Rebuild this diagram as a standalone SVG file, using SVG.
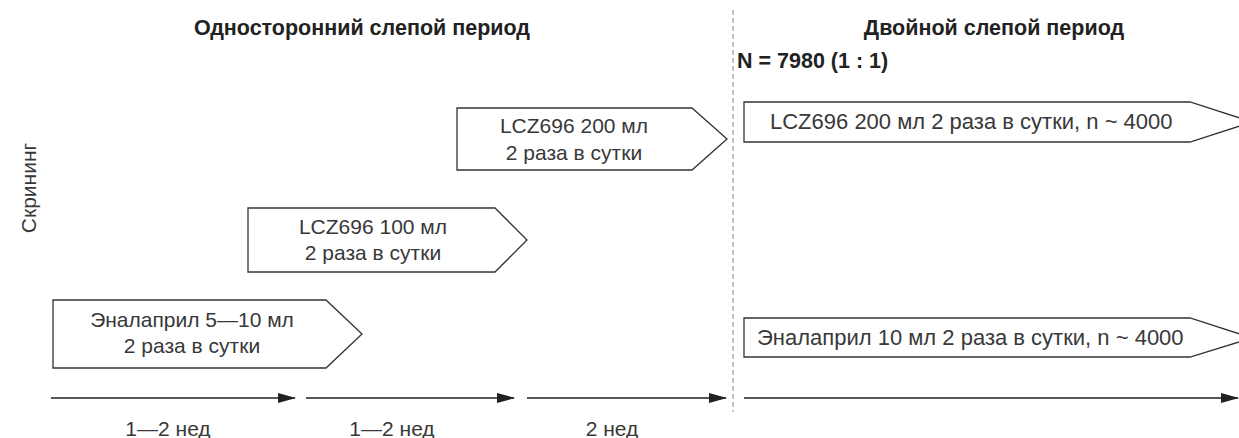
<svg xmlns="http://www.w3.org/2000/svg" width="1239" height="438" viewBox="0 0 1239 438">
<style>
.t{font-family:"Liberation Sans",Arial,sans-serif;font-size:21px;fill:#383838}
.t2{font-size:22px}
.h{font-family:"Liberation Sans",Arial,sans-serif;font-size:21.5px;font-weight:bold;fill:#222}
.box{fill:#fff;stroke:#333;stroke-width:1.3}
.ln{stroke:#222;stroke-width:1.5;fill:none}
.dash{stroke:#888;stroke-width:1;stroke-dasharray:5,3;fill:none}
</style>
<defs>
<marker id="ah" markerWidth="18" markerHeight="10" refX="17" refY="5" orient="auto" markerUnits="userSpaceOnUse">
<path d="M0,0 L18,5 L0,10 Z" fill="#222"/>
</marker>
</defs>
<rect width="1239" height="438" fill="#fff"/>
<g id="titles">
<text class="h" x="362" y="35" text-anchor="middle">Односторонний слепой период</text>
<text class="h" x="994" y="35" text-anchor="middle">Двойной слепой период</text>
<text class="h" x="737" y="68" font-size="22.5">N = 7980 (1 : 1)</text>
<text class="t" font-size="18" transform="translate(36,188) rotate(-90)" text-anchor="middle">Скрининг</text>
</g>
<g id="divider"><line class="dash" x1="733" y1="10" x2="733" y2="412"/></g>
<g id="box-lcz200">
<path class="box" d="M457,108 H692 L727,139 L692,170 H457 Z"/>
<text class="t" x="574" y="133" text-anchor="middle">LCZ696 200 мл</text>
<text class="t" x="574" y="160" text-anchor="middle">2 раза в сутки</text>
</g>
<g id="box-lcz100">
<path class="box" d="M248,208 H495 L527,240 L495,272 H248 Z"/>
<text class="t" x="373" y="234" text-anchor="middle">LCZ696 100 мл</text>
<text class="t" x="373" y="260" text-anchor="middle">2 раза в сутки</text>
</g>
<g id="box-enal">
<path class="box" d="M53,300 H326 L362,334 L326,368 H53 Z"/>
<text class="t" x="192" y="327" text-anchor="middle">Эналаприл 5—10 мл</text>
<text class="t" x="192" y="353" text-anchor="middle">2 раза в сутки</text>
</g>
<g id="box-lcz200-db">
<path class="box" d="M744,102 H1190 L1252,122 L1190,142 H744 Z"/>
<text class="t t2" x="770" y="129">LCZ696 200 мл 2 раза в сутки, n ~ 4000</text>
</g>
<g id="box-enal-db">
<path class="box" d="M744,318 H1190 L1252,338 L1190,357 H744 Z"/>
<text class="t t2" x="757" y="345">Эналаприл 10 мл 2 раза в сутки, n ~ 4000</text>
</g>
<g id="connectors">
<line class="ln" x1="51" y1="398" x2="295" y2="398" marker-end="url(#ah)"/>
<line class="ln" x1="306" y1="398" x2="514" y2="398" marker-end="url(#ah)"/>
<line class="ln" x1="527" y1="398" x2="726" y2="398" marker-end="url(#ah)"/>
<line class="ln" x1="744" y1="398" x2="1238" y2="398" marker-end="url(#ah)"/>
</g>
<g id="labels">
<text class="t" x="168" y="436" text-anchor="middle">1—2 нед</text>
<text class="t" x="392" y="436" text-anchor="middle">1—2 нед</text>
<text class="t" x="612" y="436" text-anchor="middle">2 нед</text>
</g>
</svg>
